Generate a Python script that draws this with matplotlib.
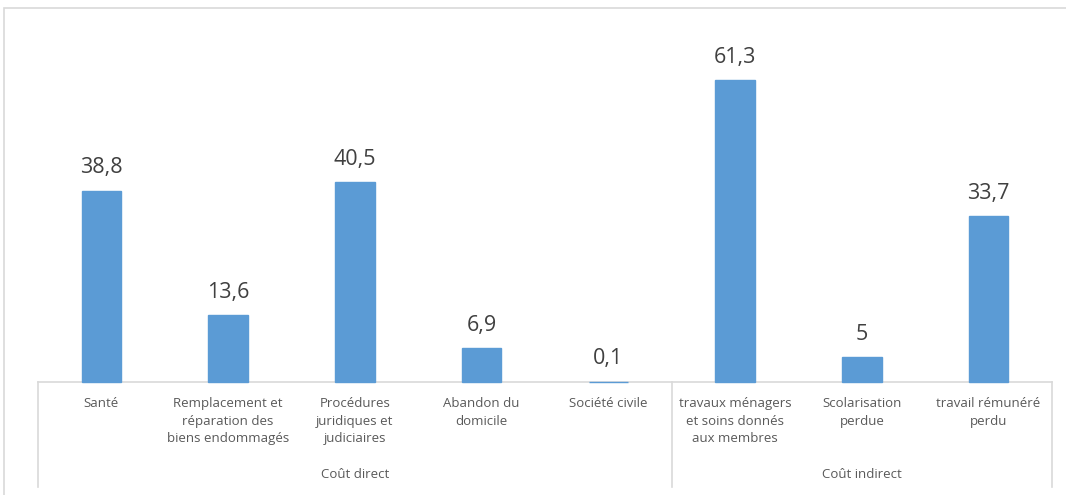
import matplotlib
matplotlib.use("Agg")
import matplotlib.pyplot as plt
from matplotlib.patches import Rectangle
from matplotlib.lines import Line2D

categories = ["Santé", "Remplacement et\nréparation des\nbiens endommagés",
              "Procédures\njuridiques et\njudiciaires", "Abandon du\ndomicile",
              "Société civile", "travaux ménagers\net soins donnés\naux membres",
              "Scolarisation\nperdue", "travail rémunéré\nperdu"]
values = [38.8, 13.6, 40.5, 6.9, 0.1, 61.3, 5, 33.7]
value_labels = ["38,8", "13,6", "40,5", "6,9", "0,1", "61,3", "5", "33,7"]
groups = ["Coût direct", "Coût indirect"]
group_sizes = [5, 3]

plt.rcParams['font.family'] = ['Open Sans', 'DejaVu Sans']
W, H = 1066, 495
fig = plt.figure(figsize=(W/100, H/100), dpi=100)
ax_l, ax_r, ax_b, ax_t = 38, 1052, 382, 37
ax = fig.add_axes([ax_l/W, 1-ax_b/H, (ax_r-ax_l)/W, (ax_b-ax_t)/H])

# outer chart border
fig.add_artist(Rectangle((4/W, -0.1), 1.2, 1-8/H+0.1, transform=fig.transFigure,
                         fill=False, edgecolor='#d9d9d9', linewidth=1.2))

x = list(range(len(values)))
ax.bar(x, values, width=0.31, color='#5b9bd5', edgecolor='#5b9bd5',
       linewidth=1.0, zorder=3, clip_on=False)
ax.set_xlim(-0.5, len(values)-0.5)
ax.set_ylim(0, 70)
for xi, v, lab in zip(x, values, value_labels):
    ax.annotate(lab, (xi, v), xytext=(0, 12.5), textcoords='offset points',
                ha='center', va='baseline', fontsize=15.5, color='#404040')

for s in ax.spines.values():
    s.set_visible(False)
ax.set_yticks([])
ax.set_xticks([])

# category labels
trans = ax.get_xaxis_transform()
for xi, c in zip(x, categories):
    ax.text(xi, -0.043, c, transform=trans, ha='center', va='top',
            fontsize=9.5, color='#595959', linespacing=1.48)

# category box lines
line_col = '#d9d9d9'
ax.add_line(Line2D([-0.5, len(values)-0.5], [0, 0], transform=trans,
                   color=line_col, lw=1.2, clip_on=False, zorder=2))
bottom = -(487-382)/(ax_b-ax_t)
start = -0.5
bounds = [start]
for g in group_sizes:
    start += g
    bounds.append(start)
for b in bounds:
    ax.add_line(Line2D([b, b], [0, bottom], transform=trans, color=line_col,
                       lw=1.2, clip_on=False))
for i, g in enumerate(groups):
    c = (bounds[i] + bounds[i+1]) / 2
    ax.text(c, -(468-382)/(ax_b-ax_t), g, transform=trans, ha='center', va='top',
            fontsize=9.5, color='#595959')

fig.savefig("out.png", dpi=100)
